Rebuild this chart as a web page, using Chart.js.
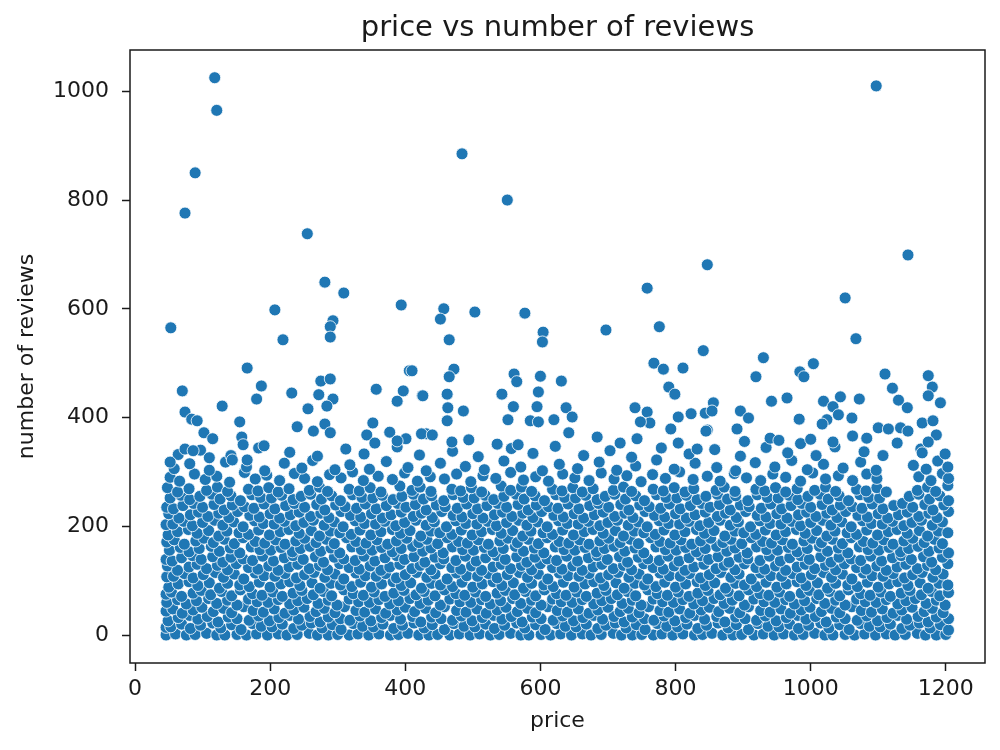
<!DOCTYPE html>
<html><head><meta charset="utf-8">
<script src="https://cdn.jsdelivr.net/npm/chart.js@4"></script>
<style>html,body{margin:0;padding:0;background:#fff;}canvas{display:block;}</style>
</head><body>
<canvas id="c" width="1000" height="750"></canvas>
<script>
const chartTitle = 'price vs number of reviews';
const xAxisLabel = 'price';
const yAxisLabel = 'number of reviews';
const xTickValues = [0,200,400,600,800,1000,1200];
const yTickValues = [0,200,400,600,800,1000];

// [price, number of reviews]
const outlierListings = [[118,1025],[121,965],[89,850],[74,776],[255,738],[484,885],[551,800],[1097,1010],[1144,699],[847,681]];

const sparseListings = [
[281,649],[309,629],[394,607],[207,598],[53,565],[293,578],[289,567],[289,548],[219,543],[166,491],[406,486],[410,486],[70,449],[187,458],[180,434],[232,445],[275,467],[289,471],[272,442],[293,434],[284,421],[256,416],[357,452],[397,449],[388,430],[425,440],[129,421],[74,410],[84,397],[92,394],[155,392],[102,372],[115,361],[240,383],[264,375],[281,388],[289,372],[352,390],[343,368],[355,353],[377,373],[401,361],[388,357],[431,370],[158,364],[160,350],[191,348],[74,342],[86,339],[52,318],[110,326],[144,322],[166,322],
[758,638],[457,600],[452,581],[503,594],[577,592],[604,557],[603,539],[697,561],[776,567],[841,523],[465,543],[472,489],[465,475],[561,480],[565,466],[600,476],[631,467],[768,500],[782,489],[811,491],[790,456],[799,443],[426,440],[462,443],[543,443],[597,447],[463,418],[486,412],[462,394],[560,420],[552,396],[595,420],[585,394],[597,392],[638,418],[647,401],[620,396],[740,418],[758,410],[762,390],[748,392],[823,407],[804,401],[844,408],[793,379],[424,370],[440,368],[469,355],[494,359],[536,351],[567,350],[642,372],[684,364],[718,353],[743,361],[804,353],[832,342],[847,377],
[1051,620],[1067,545],[930,510],[919,475],[1004,499],[984,484],[990,475],[1110,480],[1121,454],[1130,432],[1143,418],[1174,477],[1180,456],[1174,440],[1192,427],[942,430],[965,436],[1019,430],[1044,438],[1072,434],[1033,420],[1041,405],[1024,396],[1017,388],[1061,399],[856,427],[854,412],[896,412],[908,399],[891,379],[983,397],[845,375],[1100,381],[1115,379],[1133,381],[1144,375],[1165,390],[1181,394],[1186,368],[1174,355],[1128,353],[1165,335],
[902,356],[940,362],[953,358],[985,352],[1000,360],[1033,355],[1062,366],[1083,362]
];

const fringeListings = [
[52,290],[66,283],[88,296],[104,286],[121,292],[140,281],[162,299],[178,287],[195,294],[214,284],[236,297],[251,288],[270,282],[288,295],[305,289],[322,300],[338,284],[360,292],[381,286],[399,298],[418,283],[437,291],[458,287],[476,296],[497,282],[515,293],[534,288],[556,299],[575,285],[593,291],[612,283],[633,296],[651,289],[672,284],[690,298],[709,287],[728,293],[749,282],[766,295],[785,288],[806,300],[826,286],[847,292],[866,283],[887,297],[905,289],[926,284],[944,296],[963,290],[985,283],[1003,298],[1022,287],[1041,293],[1062,284],[1083,296],[1098,288],[1160,291],[1178,284],[1195,297],[1204,288],
[58,306],[81,315],[110,303],[134,318],[165,309],[192,302],[221,316],[247,307],[263,321],[296,304],[318,313],[347,305],[372,319],[404,308],[431,302],[452,316],[489,310],[517,304],[546,320],[571,309],[603,302],[628,314],[655,306],[687,318],[713,303],[741,311],[772,322],[798,305],[829,316],[861,308],[889,302],[918,317],[947,309],[972,321],[995,304],[1019,314],[1048,307],[1074,318],[1097,303],[1152,312],[1171,305],[1188,320],[1203,309],
[64,332],[97,340],[142,330],[183,344],[229,336],[270,329],[312,342],[339,333],[388,346],[421,331],[470,338],[508,328],[557,343],[589,334],[622,347],[664,330],[703,339],[735,327],[779,344],[820,333],[858,341],[896,329],[934,345],[966,335],[1008,330],[1036,346],[1079,337],[1107,330],[1163,342],[1199,333]
];

const lowBandListings = [
[46,0],[60,2],[76,0],[89,1],[106,3],[121,0],[133,0],[151,1],[165,0],[180,2],
[196,0],[212,2],[225,0],[240,1],[258,3],[270,0],[286,0],[300,1],[317,0],[330,2],
[346,0],[361,2],[378,0],[390,1],[404,3],[420,0],[435,0],[448,1],[466,0],[480,2],
[496,0],[510,2],[526,0],[539,1],[556,3],[571,0],[583,0],[601,1],[615,0],[630,2],
[646,0],[662,2],[675,0],[690,1],[708,3],[720,0],[736,0],[750,1],[767,0],[780,2],
[796,0],[811,2],[828,0],[840,1],[854,3],[870,0],[885,0],[898,1],[916,0],[930,2],
[946,0],[960,2],[976,0],[989,1],[1006,3],[1021,0],[1033,0],[1051,1],[1065,0],[1080,2],
[1096,0],[1112,2],[1125,0],[1140,1],[1158,3],[1170,0],[1186,0],[1200,1],
[46,14],
[53,15],[69,20],[82,12],[97,18],[115,22],[127,13],[143,19],[157,10],[174,21],[187,16],
[203,15],[218,20],[235,12],[247,18],[261,22],[277,13],[292,19],[305,10],[323,21],[337,16],
[353,15],[367,20],[383,12],[396,18],[413,22],[428,13],[440,19],[458,10],[472,21],[487,16],
[503,15],[519,20],[532,12],[547,18],[565,22],[577,13],[593,19],[607,10],[624,21],[637,16],
[653,15],[668,20],[685,12],[697,18],[711,22],[727,13],[742,19],[755,10],[773,21],[787,16],
[803,15],[817,20],[833,12],[846,18],[863,22],[878,13],[890,19],[908,10],[922,21],[937,16],
[953,15],[969,20],[982,12],[997,18],[1015,22],[1027,13],[1043,19],[1057,10],[1074,21],[1087,16],
[1103,15],[1118,20],[1135,12],[1147,18],[1161,22],[1177,13],[1192,19],[1204,9],
[49,26],[64,32],[81,36],[93,29],[107,34],[123,24],[138,33],[151,30],[169,27],[183,35],
[199,26],[213,32],[229,36],[242,29],[259,34],[274,24],[286,33],[304,30],[318,27],[333,35],
[349,26],[365,32],[378,36],[393,29],[411,34],[423,24],[439,33],[453,30],[470,27],[483,35],
[499,26],[514,32],[531,36],[543,29],[557,34],[573,24],[588,33],[601,30],[619,27],[633,35],
[649,26],[663,32],[679,36],[692,29],[709,34],[724,24],[736,33],[754,30],[768,27],[783,35],
[799,26],[815,32],[828,36],[843,29],[861,34],[873,24],[889,33],[903,30],[920,27],[933,35],
[949,26],[964,32],[981,36],[993,29],[1007,34],[1023,24],[1038,33],[1051,30],[1069,27],[1083,35],
[1099,26],[1113,32],[1129,36],[1142,29],[1159,34],[1174,24],[1186,33],[1204,30],
[46,44],
[56,48],[70,40],[86,46],[99,51],[116,43],[131,49],[143,41],[161,52],[175,45],[190,42],
[206,48],[222,40],[235,46],[250,51],[268,43],[280,49],[296,41],[310,52],[327,45],[340,42],
[356,48],[371,40],[388,46],[400,51],[414,43],[430,49],[445,41],[458,52],[476,45],[490,42],
[506,48],[520,40],[536,46],[549,51],[566,43],[581,49],[593,41],[611,52],[625,45],[640,42],
[656,48],[672,40],[685,46],[700,51],[718,43],[730,49],[746,41],[760,52],[777,45],[790,42],
[806,48],[821,40],[838,46],[850,51],[864,43],[880,49],[895,41],[908,52],[926,45],[940,42],
[956,48],[970,40],[986,46],[999,51],[1016,43],[1031,49],[1043,41],[1061,52],[1075,45],[1090,42],
[1106,48],[1122,40],[1135,46],[1150,51],[1168,43],[1180,49],[1196,41],
[47,60],[63,65],[76,57],[91,63],[109,67],[121,58],[137,64],[151,55],[168,66],[181,61],
[197,60],[212,65],[229,57],[241,63],[255,67],[271,58],[286,64],[299,55],[317,66],[331,61],
[347,60],[361,65],[377,57],[390,63],[407,67],[422,58],[434,64],[452,55],[466,66],[481,61],
[497,60],[513,65],[526,57],[541,63],[559,67],[571,58],[587,64],[601,55],[618,66],[631,61],
[647,60],[662,65],[679,57],[691,63],[705,67],[721,58],[736,64],[749,55],[767,66],[781,61],
[797,60],[811,65],[827,57],[840,63],[857,67],[872,58],[884,64],[902,55],[916,66],[931,61],
[947,60],[963,65],[976,57],[991,63],[1009,67],[1021,58],[1037,64],[1051,55],[1068,66],[1081,61],
[1097,60],[1112,65],[1129,57],[1141,63],[1155,67],[1171,58],[1186,64],[1199,55],
[46,75],
[54,79],[69,71],[86,77],[98,82],[112,74],[128,80],[143,72],[156,83],[174,76],[188,73],
[204,79],[218,71],[234,77],[247,82],[264,74],[279,80],[291,72],[309,83],[323,76],[338,73],
[354,79],[370,71],[383,77],[398,82],[416,74],[428,80],[444,72],[458,83],[475,76],[488,73],
[504,79],[519,71],[536,77],[548,82],[562,74],[578,80],[593,72],[606,83],[624,76],[638,73],
[654,79],[668,71],[684,77],[697,82],[714,74],[729,80],[741,72],[759,83],[773,76],[788,73],
[804,79],[820,71],[833,77],[848,82],[866,74],[878,80],[894,72],[908,83],[925,76],[938,73],
[954,79],[969,71],[986,77],[998,82],[1012,74],[1028,80],[1043,72],[1056,83],[1074,76],[1088,73],
[1104,79],[1118,71],[1134,77],[1147,82],[1164,74],[1179,80],[1191,72],[1204,78]
];

const midBandListings = [
[50,88],[64,94],[80,98],[93,91],[110,96],[125,86],[137,95],[155,92],[169,89],[184,97],
[200,88],[216,94],[229,98],[244,91],[262,96],[274,86],[290,95],[304,92],[321,89],[334,97],
[350,88],[365,94],[382,98],[394,91],[408,96],[424,86],[439,95],[452,92],[470,89],[484,97],
[500,88],[514,94],[530,98],[543,91],[560,96],[575,86],[587,95],[605,92],[619,89],[634,97],
[650,88],[666,94],[679,98],[694,91],[712,96],[724,86],[740,95],[754,92],[771,89],[784,97],
[800,88],[815,94],[832,98],[844,91],[858,96],[874,86],[889,95],[902,92],[920,89],[934,97],
[950,88],[964,94],[980,98],[993,91],[1010,96],[1025,86],[1037,95],[1055,92],[1069,89],[1084,97],
[1100,88],[1116,94],[1129,98],[1144,91],[1162,96],[1174,86],[1190,95],[1203,92],
[47,107],
[57,108],[73,113],[86,105],[101,111],[119,115],[131,106],[147,112],[161,103],[178,114],[191,109],
[207,108],[222,113],[239,105],[251,111],[265,115],[281,106],[296,112],[309,103],[327,114],[341,109],
[357,108],[371,113],[387,105],[400,111],[417,115],[432,106],[444,112],[462,103],[476,114],[491,109],
[507,108],[523,113],[536,105],[551,111],[569,115],[581,106],[597,112],[611,103],[628,114],[641,109],
[657,108],[672,113],[689,105],[701,111],[715,115],[731,106],[746,112],[759,103],[777,114],[791,109],
[807,108],[821,113],[837,105],[850,111],[867,115],[882,106],[894,112],[912,103],[926,114],[941,109],
[957,108],[973,113],[986,105],[1001,111],[1019,115],[1031,106],[1047,112],[1061,103],[1078,114],[1091,109],
[1107,108],[1122,113],[1139,105],[1151,111],[1165,115],[1181,106],[1196,112],
[48,127],[63,119],[80,125],[92,130],[106,122],[122,128],[137,120],[150,131],[168,124],[182,121],
[198,127],[212,119],[228,125],[241,130],[258,122],[273,128],[285,120],[303,131],[317,124],[332,121],
[348,127],[364,119],[377,125],[392,130],[410,122],[422,128],[438,120],[452,131],[469,124],[482,121],
[498,127],[513,119],[530,125],[542,130],[556,122],[572,128],[587,120],[600,131],[618,124],[632,121],
[648,127],[662,119],[678,125],[691,130],[708,122],[723,128],[735,120],[753,131],[767,124],[782,121],
[798,127],[814,119],[827,125],[842,130],[860,122],[872,128],[888,120],[902,131],[919,124],[932,121],
[948,127],[963,119],[980,125],[992,130],[1006,122],[1022,128],[1037,120],[1050,131],[1068,124],[1082,121],
[1098,127],[1112,119],[1128,125],[1141,130],[1158,122],[1173,128],[1185,120],[1203,131],
[46,139],
[55,136],[69,142],[85,146],[98,139],[115,144],[130,134],[142,143],[160,140],[174,137],[189,145],
[205,136],[221,142],[234,146],[249,139],[267,144],[279,134],[295,143],[309,140],[326,137],[339,145],
[355,136],[370,142],[387,146],[399,139],[413,144],[429,134],[444,143],[457,140],[475,137],[489,145],
[505,136],[519,142],[535,146],[548,139],[565,144],[580,134],[592,143],[610,140],[624,137],[639,145],
[655,136],[671,142],[684,146],[699,139],[717,144],[729,134],[745,143],[759,140],[776,137],[789,145],
[805,136],[820,142],[837,146],[849,139],[863,144],[879,134],[894,143],[907,140],[925,137],[939,145],
[955,136],[969,142],[985,146],[998,139],[1015,144],[1030,134],[1042,143],[1060,140],[1074,137],[1089,145],
[1105,136],[1121,142],[1134,146],[1149,139],[1167,144],[1179,134],[1195,143],
[51,156],[67,161],[80,153],[95,159],[113,163],[125,154],[141,160],[155,151],[172,162],[185,157],
[201,156],[216,161],[233,153],[245,159],[259,163],[275,154],[290,160],[303,151],[321,162],[335,157],
[351,156],[365,161],[381,153],[394,159],[411,163],[426,154],[438,160],[456,151],[470,162],[485,157],
[501,156],[517,161],[530,153],[545,159],[563,163],[575,154],[591,160],[605,151],[622,162],[635,157],
[651,156],[666,161],[683,153],[695,159],[709,163],[725,154],[740,160],[753,151],[771,162],[785,157],
[801,156],[815,161],[831,153],[844,159],[861,163],[876,154],[888,160],[906,151],[920,162],[935,157],
[951,156],[967,161],[980,153],[995,159],[1013,163],[1025,154],[1041,160],[1055,151],[1072,162],[1085,157],
[1101,156],[1116,161],[1133,153],[1145,159],[1159,163],[1175,154],[1190,160],[1204,151],
[47,171],
[58,175],[73,167],[90,173],[102,178],[116,170],[132,176],[147,168],[160,179],[178,172],[192,169],
[208,175],[222,167],[238,173],[251,178],[268,170],[283,176],[295,168],[313,179],[327,172],[342,169],
[358,175],[374,167],[387,173],[402,178],[420,170],[432,176],[448,168],[462,179],[479,172],[492,169],
[508,175],[523,167],[540,173],[552,178],[566,170],[582,176],[597,168],[610,179],[628,172],[642,169],
[658,175],[672,167],[688,173],[701,178],[718,170],[733,176],[745,168],[763,179],[777,172],[792,169],
[808,175],[824,167],[837,173],[852,178],[870,170],[882,176],[898,168],[912,179],[929,172],[942,169],
[958,175],[973,167],[990,173],[1002,178],[1016,170],[1032,176],[1047,168],[1060,179],[1078,172],[1092,169],
[1108,175],[1122,167],[1138,173],[1151,178],[1168,170],[1183,176],[1195,168]
];

const upperBandListings = [
[49,184],[63,190],[79,194],[92,187],[109,192],[124,182],[136,191],[154,188],[168,185],[183,193],
[199,184],[215,190],[228,194],[243,187],[261,192],[273,182],[289,191],[303,188],[320,185],[333,193],
[349,184],[364,190],[381,194],[393,187],[407,192],[423,182],[438,191],[451,188],[469,185],[483,193],
[499,184],[513,190],[529,194],[542,187],[559,192],[574,182],[586,191],[604,188],[618,185],[633,193],
[649,184],[665,190],[678,194],[693,187],[711,192],[723,182],[739,191],[753,188],[770,185],[783,193],
[799,184],[814,190],[831,194],[843,187],[857,192],[873,182],[888,191],[901,188],[919,185],[933,193],
[949,184],[963,190],[979,194],[992,187],[1009,192],[1024,182],[1036,191],[1054,188],[1068,185],[1083,193],
[1099,184],[1115,190],[1128,194],[1143,187],[1161,192],[1173,182],[1189,191],[1203,188],
[46,203],
[56,204],[72,209],[85,201],[100,207],[118,211],[130,202],[146,208],[160,199],[177,210],[190,205],
[206,204],[221,209],[238,201],[250,207],[264,211],[280,202],[295,208],[308,199],[326,210],[340,205],
[356,204],[370,209],[386,201],[399,207],[416,211],[431,202],[443,208],[461,199],[475,210],[490,205],
[506,204],[522,209],[535,201],[550,207],[568,211],[580,202],[596,208],[610,199],[627,210],[640,205],
[656,204],[671,209],[688,201],[700,207],[714,211],[730,202],[745,208],[758,199],[776,210],[790,205],
[806,204],[820,209],[836,201],[849,207],[866,211],[881,202],[893,208],[911,199],[925,210],[940,205],
[956,204],[972,209],[985,201],[1000,207],[1018,211],[1030,202],[1046,208],[1060,199],[1077,210],[1090,205],
[1106,204],[1121,209],[1138,201],[1150,207],[1164,211],[1180,202],[1195,208],
[50,223],[65,215],[82,221],[94,226],[108,218],[124,224],[139,216],[152,227],[170,220],[184,217],
[200,223],[214,215],[230,221],[243,226],[260,218],[275,224],[287,216],[305,227],[319,220],[334,217],
[350,223],[366,215],[379,221],[394,226],[412,218],[424,224],[440,216],[454,227],[471,220],[484,217],
[500,223],[515,215],[532,221],[544,226],[558,218],[574,224],[589,216],[602,227],[620,220],[634,217],
[650,223],[664,215],[680,221],[693,226],[710,218],[725,224],[737,216],[755,227],[769,220],[784,217],
[800,223],[816,215],[829,221],[844,226],[862,218],[874,224],[890,216],[904,227],[921,220],[934,217],
[950,223],[965,215],[982,221],[994,226],[1008,218],[1024,224],[1039,216],[1052,227],[1070,220],[1084,217],
[1100,223],[1114,215],[1130,221],[1143,226],[1160,218],[1175,224],[1187,216],[1204,227],
[47,235],
[57,232],[71,238],[87,242],[100,235],[117,240],[132,230],[144,239],[162,236],[176,233],[191,241],
[207,232],[223,238],[236,242],[251,235],[269,240],[281,230],[297,239],[311,236],[328,233],[341,241],
[357,232],[372,238],[389,242],[401,235],[415,240],[431,230],[446,239],[459,236],[477,233],[491,241],
[507,232],[521,238],[537,242],[550,235],[567,240],[582,230],[594,239],[612,236],[626,233],[641,241],
[657,232],[673,238],[686,242],[701,235],[719,240],[731,230],[747,239],[761,236],[778,233],[791,241],
[807,232],[822,238],[839,242],[851,235],[865,240],[881,230],[896,239],[909,236],[927,233],[941,241],
[957,232],[971,238],[987,242],[1000,235],[1017,240],[1032,230],[1044,239],[1062,236],[1076,233],[1091,241],
[1107,232],[1123,238],[1136,242],[1151,235],[1169,240],[1181,230],[1197,239],
[52,252],[68,257],[81,249],[96,255],[114,259],[126,250],[142,256],[156,247],[173,258],[186,253],
[202,252],[217,257],[234,249],[246,255],[260,259],[276,250],[291,256],[304,247],[322,258],[336,253],
[352,252],[366,257],[382,249],[395,255],[412,259],[427,250],[439,256],[457,247],[471,258],[486,253],
[502,252],[518,257],[531,249],[546,255],[564,259],[576,250],[592,256],[606,247],[623,258],[636,253],
[652,252],[667,257],[684,249],[696,255],[710,259],[726,250],[741,256],[754,247],[772,258],[786,253],
[802,252],[816,257],[832,249],[845,255],[862,259],[877,250],[889,256],[907,247],[921,258],[936,253],
[952,252],[968,257],[981,249],[996,255],[1014,259],[1026,250],[1042,256],[1056,247],[1073,258],[1086,253],
[1102,252],[1146,255],[1160,259],[1176,250],[1191,256],[1204,247],
[48,271],[63,263],[80,269],[106,266],[122,272],[137,264],[168,268],[182,265],
[198,271],[212,263],[228,269],[258,266],[273,272],[285,264],[317,268],[332,265],
[348,271],[364,263],[392,274],[410,266],[422,272],[438,264],[469,268],[482,265],
[498,271],[513,263],[542,274],[556,266],[572,272],[587,264],[618,268],[632,265],
[648,271],[662,263],[678,269],[708,266],[723,272],[735,264],[767,268],[782,265],
[798,271],[814,263],[827,269],[860,266],[872,272],[888,264],[919,268],[932,265],
[948,271],[963,263],[980,269],[1006,266],[1022,272],[1037,264],[1068,268],[1082,265],
[1098,271],[1112,263],[1158,266],[1173,272],[1185,264],[1203,275]
];

const allListings = [].concat(lowBandListings, midBandListings, upperBandListings, fringeListings, sparseListings, outlierListings);
const points = allListings.map(([price, reviews]) => ({x: price, y: reviews}));

const INK = '#1a1a1a';
const MARKER_R = 6;
const framePlugin = {
  id: 'frameAndTitle',
  afterDraw(chart) {
    const {ctx, chartArea: a} = chart;
    ctx.save();
    ctx.strokeStyle = INK;
    ctx.lineWidth = 1.5;
    ctx.strokeRect(a.left, a.top, a.right - a.left, a.bottom - a.top);
    ctx.fillStyle = INK;
    ctx.font = '29px "DejaVu Sans"';
    ctx.textAlign = 'center';
    ctx.textBaseline = 'alphabetic';
    ctx.fillText(chartTitle, (a.left + a.right) / 2, 36);
    ctx.restore();
  }
};

const tickFont = {family: 'DejaVu Sans', size: 22};
new Chart(document.getElementById('c'), {
  type: 'scatter',
  data: {datasets: [{
    data: points,
    pointStyle: 'circle',
    pointRadius: MARKER_R,
    pointHoverRadius: MARKER_R,
    backgroundColor: '#1f77b4',
    borderColor: '#ffffff',
    borderWidth: 0.8
  }]},
  options: {
    responsive: false,
    animation: false,
    devicePixelRatio: 1,
    events: [],
    layout: {padding: {top: 50, right: 15, left: 0, bottom: 0}},
    plugins: {legend: {display: false}, tooltip: {enabled: false}, title: {display: false}},
    scales: {
      x: {
        type: 'linear', min: -7.4, max: 1258,
        afterBuildTicks(s) { s.ticks = xTickValues.map(v => ({value: v})); },
        afterFit(s) { s.height = 87; },
        grid: {display: true, drawOnChartArea: false, drawTicks: true, tickLength: 8, tickColor: INK, tickWidth: 1.5},
        border: {display: false},
        ticks: {padding: 5, color: INK, font: tickFont, maxRotation: 0, autoSkip: false, callback: v => String(v)},
        title: {display: true, text: xAxisLabel, color: INK, font: tickFont, padding: {top: 0, bottom: 16}}
      },
      y: {
        type: 'linear', min: -51.5, max: 1076,
        afterBuildTicks(s) { s.ticks = yTickValues.map(v => ({value: v})); },
        afterFit(s) { s.width = 130; },
        grid: {display: true, drawOnChartArea: false, drawTicks: true, tickLength: 8, tickColor: INK, tickWidth: 1.5},
        border: {display: false},
        ticks: {padding: 13, color: INK, font: tickFont, autoSkip: false, callback: v => String(v)},
        title: {display: true, text: yAxisLabel, color: INK, font: tickFont, padding: {top: 14, bottom: 0}}
      }
    }
  },
  plugins: [framePlugin]
});
</script>
</body></html>
